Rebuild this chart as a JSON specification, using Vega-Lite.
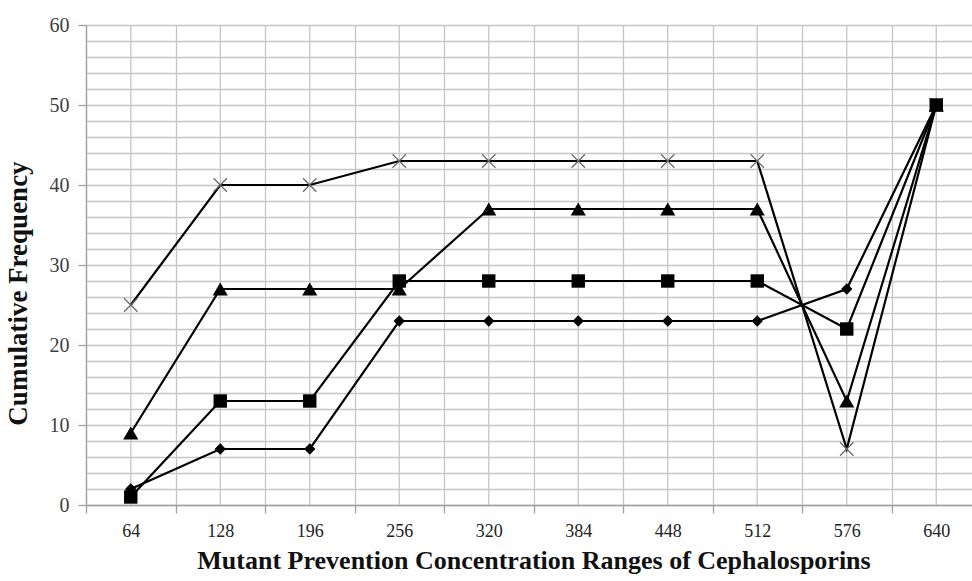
{
  "$schema": "https://vega.github.io/schema/vega-lite/v6.json",
  "width": 886,
  "height": 480,
  "autosize": "none",
  "padding": {"left": 86, "top": 25, "right": 0, "bottom": 76},
  "background": "white",
  "config": {"view": {"stroke": null}},
  "data": {"values": [
    {"mpc": "64", "series": "A", "freq": 2}, {"mpc": "128", "series": "A", "freq": 7}, {"mpc": "196", "series": "A", "freq": 7}, {"mpc": "256", "series": "A", "freq": 23}, {"mpc": "320", "series": "A", "freq": 23}, {"mpc": "384", "series": "A", "freq": 23}, {"mpc": "448", "series": "A", "freq": 23}, {"mpc": "512", "series": "A", "freq": 23}, {"mpc": "576", "series": "A", "freq": 27}, {"mpc": "640", "series": "A", "freq": 50},
    {"mpc": "64", "series": "B", "freq": 1}, {"mpc": "128", "series": "B", "freq": 13}, {"mpc": "196", "series": "B", "freq": 13}, {"mpc": "256", "series": "B", "freq": 28}, {"mpc": "320", "series": "B", "freq": 28}, {"mpc": "384", "series": "B", "freq": 28}, {"mpc": "448", "series": "B", "freq": 28}, {"mpc": "512", "series": "B", "freq": 28}, {"mpc": "576", "series": "B", "freq": 22}, {"mpc": "640", "series": "B", "freq": 50},
    {"mpc": "64", "series": "C", "freq": 9}, {"mpc": "128", "series": "C", "freq": 27}, {"mpc": "196", "series": "C", "freq": 27}, {"mpc": "256", "series": "C", "freq": 27}, {"mpc": "320", "series": "C", "freq": 37}, {"mpc": "384", "series": "C", "freq": 37}, {"mpc": "448", "series": "C", "freq": 37}, {"mpc": "512", "series": "C", "freq": 37}, {"mpc": "576", "series": "C", "freq": 13}, {"mpc": "640", "series": "C", "freq": 50},
    {"mpc": "64", "series": "D", "freq": 25}, {"mpc": "128", "series": "D", "freq": 40}, {"mpc": "196", "series": "D", "freq": 40}, {"mpc": "256", "series": "D", "freq": 43}, {"mpc": "320", "series": "D", "freq": 43}, {"mpc": "384", "series": "D", "freq": 43}, {"mpc": "448", "series": "D", "freq": 43}, {"mpc": "512", "series": "D", "freq": 43}, {"mpc": "576", "series": "D", "freq": 7}, {"mpc": "640", "series": "D", "freq": 50}
  ]},
  "encoding": {
    "x": {
      "field": "mpc", "type": "ordinal",
      "sort": ["64", "128", "196", "256", "320", "384", "448", "512", "576", "640"],
      "scale": {"range": [0, 895], "paddingInner": 0, "paddingOuter": 0},
      "title": "Mutant Prevention Concentration Ranges of Cephalosporins",
      "axis": {
        "labelAngle": 0, "tickBand": "extent", "grid": true, "gridColor": "#c6c6c6", "gridWidth": 1.3,
        "domainColor": "#a0a0a0", "domainWidth": 1.3, "tickColor": "#a0a0a0", "tickSize": 8, "tickWidth": 1.3,
        "labelFont": "Liberation Serif", "labelFontSize": 18, "labelColor": "#222", "labelPadding": 9,
        "titleFont": "Liberation Serif", "titleFontSize": 26, "titleFontWeight": "bold", "titleColor": "#111", "titlePadding": 7
      }
    },
    "y": {
      "field": "freq", "type": "quantitative",
      "scale": {"domain": [0, 60], "nice": false},
      "title": "Cumulative Frequency",
      "axis": {
        "values": [0, 2, 4, 6, 8, 10, 12, 14, 16, 18, 20, 22, 24, 26, 28, 30, 32, 34, 36, 38, 40, 42, 44, 46, 48, 50, 52, 54, 56, 58, 60],
        "labelExpr": "datum.value % 10 === 0 ? datum.label : ''",
        "tickOpacity": {"condition": {"test": "datum.value % 10 === 0", "value": 1}, "value": 0},
        "grid": true, "gridColor": "#c6c6c6", "gridWidth": 1.3,
        "domainColor": "#a0a0a0", "domainWidth": 1.3, "tickColor": "#a0a0a0", "tickSize": 8, "tickWidth": 1.3,
        "labelFont": "Liberation Serif", "labelFontSize": 20, "labelColor": "#404040", "labelPadding": 9,
        "titleFont": "Liberation Serif", "titleFontSize": 27, "titleFontWeight": "bold", "titleColor": "#111",
        "titleX": -54, "titleY": 268, "titleAngle": 270, "titleBaseline": "bottom", "titleAlign": "center"
      }
    }
  },
  "layer": [
    {
      "transform": [{"filter": "datum.series === 'A'"}],
      "mark": {"type": "rule", "color": "#c6c6c6", "strokeWidth": 1.3},
      "encoding": {"y": null}
    },
    {
      "mark": {"type": "line", "color": "black", "strokeWidth": 2.2},
      "encoding": {"detail": {"field": "series"}}
    },
    {
      "transform": [{"filter": "datum.series === 'D'"}],
      "mark": {"type": "point", "shape": "M-1,-1L1,1M-1,1L1,-1", "filled": false, "stroke": "#666", "strokeWidth": 1.2, "size": 180, "opacity": 1}
    },
    {
      "transform": [{"filter": "datum.series !== 'D'"}],
      "mark": {"type": "point", "filled": true, "color": "black", "opacity": 1},
      "encoding": {
        "shape": {"field": "series", "scale": {"domain": ["A", "B", "C"], "range": ["diamond", "square", "triangle-up"]}, "legend": null},
        "size": {"field": "series", "scale": {"domain": ["A", "B", "C"], "range": [130, 230, 200]}, "legend": null}
      }
    }
  ]
}
